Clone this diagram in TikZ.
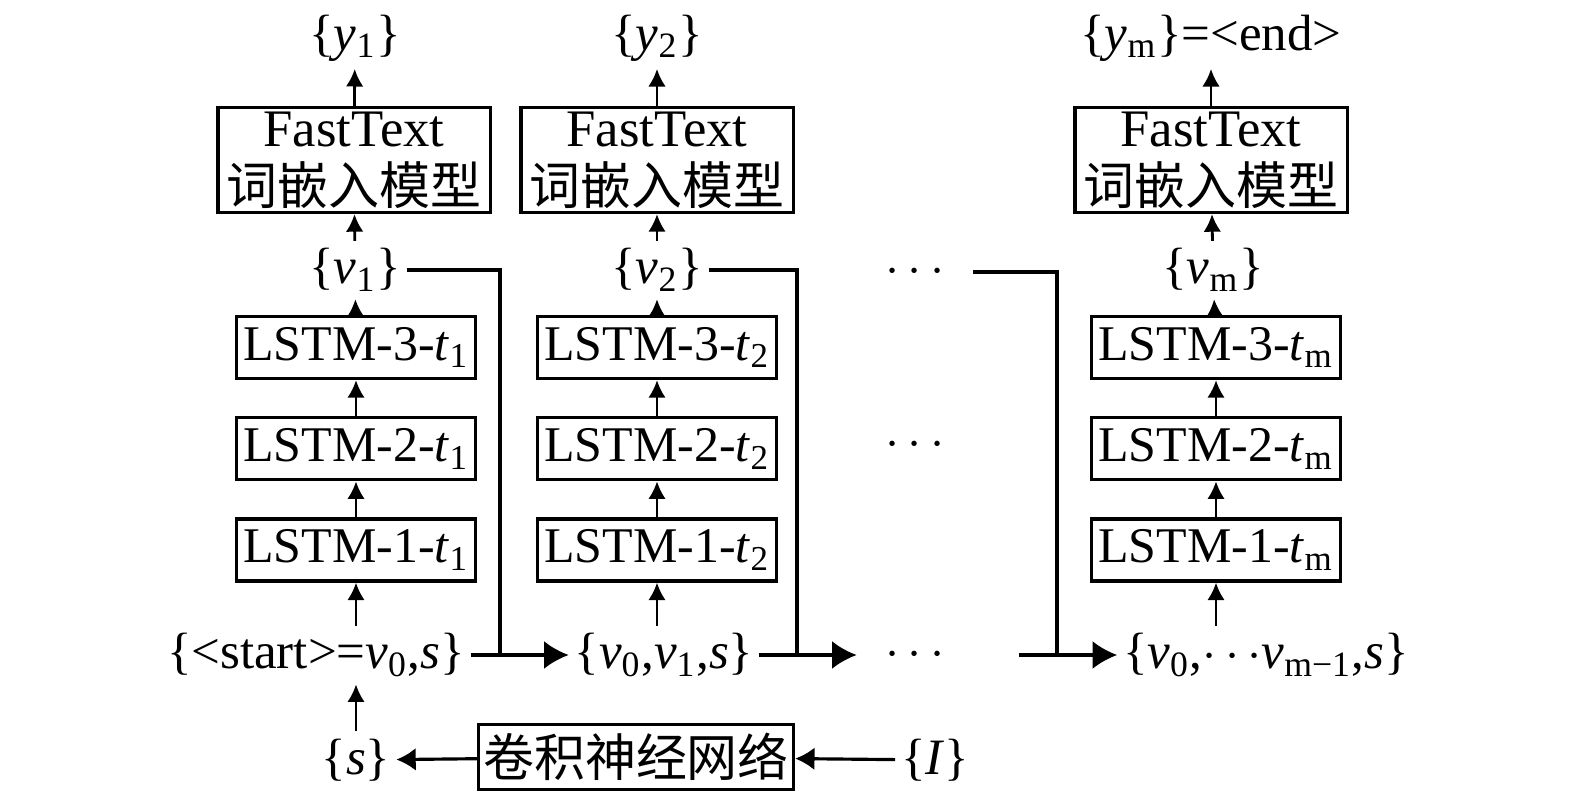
\documentclass[tikz,border=0pt]{standalone}
\usepackage{fontspec}
\setmainfont{Liberation Serif}
\newfontfamily\cjk{Noto Sans CJK SC}
\usetikzlibrary{arrows.meta, positioning}

\tikzset{
   lbl/.style={inner xsep=1.5pt, inner ysep=2pt, font=\fontsize{14.5}{17}\selectfont},
   ellip/.style={lbl, inner xsep=8pt},
   ftbox/.style={draw, line width=0.9pt, minimum width=2.72cm, minimum height=1.05cm,
      align=center, inner sep=1pt, font=\fontsize{15}{16.5}\selectfont},
   lstm/.style={draw, line width=0.9pt, minimum height=0.62cm, inner xsep=2pt,
      inner ysep=0pt, font=\fontsize{14.2}{17}\selectfont},
   cnnbox/.style={draw, line width=0.9pt, minimum width=3.15cm, minimum height=0.65cm,
      inner sep=1pt, font=\cjk\fontsize{14.5}{17}\selectfont},
   up/.style={-{Latex[length=5pt,width=5pt]}, line width=0.8pt},
   fwd/.style={-{Latex[length=7pt,width=8pt]}, line width=0.9pt},
   back/.style={-{Latex[length=5.5pt,width=6.5pt]}, line width=0.9pt},
   feed/.style={line width=0.9pt},
}

\begin{document}
\begin{tikzpicture}[x=0.01cm, y=-0.01cm, node distance=0.36cm]
   \useasboundingbox (0,0) rectangle (1575,797);

   % first step
   \node[lstm] (l1a) at (356,550) {LSTM-1-\textit{t}\textsubscript{1}};
   \node[lstm] (l2a) [above=of l1a] {LSTM-2-\textit{t}\textsubscript{1}};
   \node[lstm] (l3a) [above=of l2a] {LSTM-3-\textit{t}\textsubscript{1}};
   \node[lbl] (v1) at (355,270) {\{\textit{v}\textsubscript{1}\}};
   \node[ftbox] (ft1) at (354,160) {FastText\\{\cjk\fontsize{14.5}{16.5}\selectfont 词嵌入模型}};
   \node[lbl] (y1) at (355,38) {\{\textit{y}\textsubscript{1}\}};

   % second step
   \node[lstm] (l1b) at (657,550) {LSTM-1-\textit{t}\textsubscript{2}};
   \node[lstm] (l2b) [above=of l1b] {LSTM-2-\textit{t}\textsubscript{2}};
   \node[lstm] (l3b) [above=of l2b] {LSTM-3-\textit{t}\textsubscript{2}};
   \node[lbl] (v2) at (657,270) {\{\textit{v}\textsubscript{2}\}};
   \node[ftbox] (ft2) at (657,160) {FastText\\{\cjk\fontsize{14.5}{16.5}\selectfont 词嵌入模型}};
   \node[lbl] (y2) at (657,38) {\{\textit{y}\textsubscript{2}\}};

   % last step
   \node[lstm] (l1c) at (1216,550) {LSTM-1-\textit{t}\textsubscript{m}};
   \node[lstm] (l2c) [above=of l1c] {LSTM-2-\textit{t}\textsubscript{m}};
   \node[lstm] (l3c) [above=of l2c] {LSTM-3-\textit{t}\textsubscript{m}};
   \node[lbl] (vm) at (1213,270) {\{\textit{v}\textsubscript{m}\}};
   \node[ftbox] (ft3) at (1211,160) {FastText\\{\cjk\fontsize{14.5}{16.5}\selectfont 词嵌入模型}};
   \node[lbl] (ym) at (1211,38) {\{\textit{y}\textsubscript{m}\}=<end>};

   \node[ellip] (d1) at (915,272) {$\cdots$};
   \node[ellip] (d2) at (915,445) {$\cdots$};
   \node[ellip] (d3) at (915,655) {$\cdots$};

   % input row
   \node[lbl] (s0) at (316,655) {\{<start>=\textit{v}\textsubscript{0},\textit{s}\}};
   \node[lbl] (s1) at (664,655) {\{\textit{v}\textsubscript{0},\textit{v}\textsubscript{1},\textit{s}\}};
   \node[lbl] (sm) at (1266,655) {\{\textit{v}\textsubscript{0},$\cdots$\textit{v}\textsubscript{m−1},\textit{s}\}};
   \coordinate (j1) at (500,655);
   \coordinate (j2) at (797,655);
   \coordinate (j3) at (1057,655);

   % image encoder
   \node[lbl] (sv) at (356,760) {\{\textit{s}\}};
   \node[cnnbox] (cnn) at (636,757) {卷积神经网络};
   \node[lbl] (img) at (935,760) {\{\textit{I}\}};

   \draw[up] (s0.north -| l1a) -- (l1a);
   \draw[up] (l1a) -- (l2a);
   \draw[up] (l2a) -- (l3a);
   \draw[up] (l3a) -- (v1);
   \draw[up] (v1) -- (ft1);
   \draw[up] (ft1) -- (y1);

   \draw[up] (s1.north -| l1b) -- (l1b);
   \draw[up] (l1b) -- (l2b);
   \draw[up] (l2b) -- (l3b);
   \draw[up] (l3b) -- (v2);
   \draw[up] (v2) -- (ft2);
   \draw[up] (ft2) -- (y2);

   \draw[up] (sm.north -| l1c) -- (l1c);
   \draw[up] (l1c) -- (l2c);
   \draw[up] (l2c) -- (l3c);
   \draw[up] (l3c) -- (vm);
   \draw[up] (vm) -- (ft3);
   \draw[up] (ft3) -- (ym.south -| ft3);

   \draw[fwd] (s0) -- (s1);
   \draw[fwd] (s1) -- (d3);
   \draw[fwd, shorten <=13pt] (d3) -- (sm);
   \draw[feed] (v1) -| (j1);
   \draw[feed] (v2) -| (j2);
   \draw[feed] (d1) -| (j3);

   \draw[back] (cnn) -- (sv);
   \draw[back] (img) -- (cnn);
   \draw[up] (sv) -- (s0.south -| sv);
\end{tikzpicture}
\end{document}
